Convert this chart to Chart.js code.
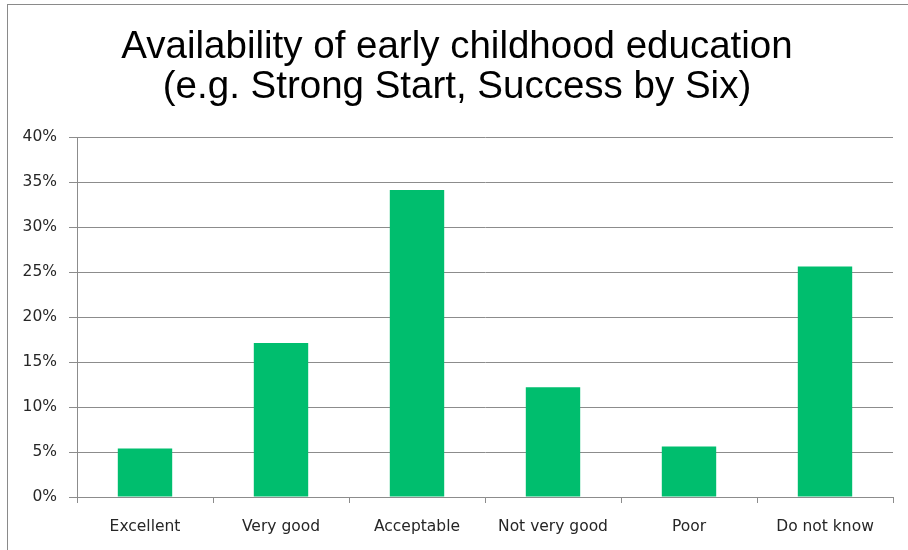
<!DOCTYPE html>
<html>
<head>
<meta charset="utf-8">
<script src="https://cdn.jsdelivr.net/npm/chart.js@4"></script>
<style>
    html, body { margin: 0; padding: 0; background: #fff; overflow: hidden; }
    #frame { position: absolute; left: 7px; top: 4px; width: 1000px; height: 1000px; border: 1px solid #8a8a8a; }
    #wrap { position: absolute; left: 0; top: 0; width: 908px; height: 550px; }
</style>
</head>
<body>
<div id="frame"></div>
<div id="wrap"><canvas id="chart"></canvas></div>
<script>
// Chart data
const titleLines = ["Availability of early childhood education", "(e.g. Strong Start, Success by Six)"];
const categories = ["Excellent", "Very good", "Acceptable", "Not very good", "Poor", "Do not know"];
const percentValues = [5.4, 17.1, 34.1, 12.2, 5.6, 25.6];
const yTicks = [0, 5, 10, 15, 20, 25, 30, 35, 40];

const gridGray = "#8c8c8c";
const labelFont = { family: "'DejaVu Sans', sans-serif", size: 15.5 };

document.addEventListener("DOMContentLoaded", function () {
    const ctx = document.getElementById("chart").getContext("2d");
    new Chart(ctx, {
        type: "bar",
        data: {
            labels: categories,
            datasets: [{
                data: percentValues,
                backgroundColor: "#00BE6E",
                categoryPercentage: 1,
                barPercentage: 0.4
            }]
        },
        options: {
            responsive: true,
            maintainAspectRatio: false,
            animation: false,
            layout: { padding: { left: 21, right: 15, top: 0, bottom: 0 } },
            plugins: {
                legend: { display: false },
                tooltip: { enabled: false },
                title: {
                    display: true,
                    text: titleLines,
                    color: "#000",
                    font: { family: "'Liberation Sans', Arial, sans-serif", size: 38.5, weight: "normal", lineHeight: 40 / 38.5 },
                    padding: { top: 27, bottom: 30 }
                }
            },
            scales: {
                x: {
                    grid: { offset: true, drawOnChartArea: false, color: gridGray, tickLength: 6 },
                    border: { color: gridGray },
                    ticks: { color: "#262626", padding: 15, font: labelFont },
                    afterFit: s => { s.height = 53; }
                },
                y: {
                    min: 0,
                    max: 40,
                    afterBuildTicks: s => { s.ticks = yTicks.map(v => ({ value: v })); },
                    grid: { color: gridGray, tickLength: 8 },
                    border: { color: gridGray },
                    ticks: {
                        color: "#262626",
                        padding: 12,
                        font: labelFont,
                        callback: v => v + "%"
                    },
                    afterFit: s => { s.width = 56; }
                }
            }
        }
    });
});
</script>
</body>
</html>
